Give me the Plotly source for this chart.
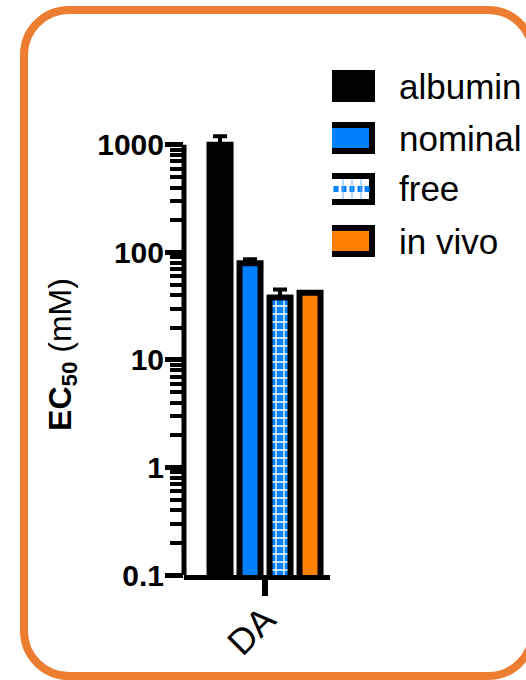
import plotly.graph_objects as go

# ---------------- data ----------------
categories = ["DA"]
series_names = ["albumin", "nominal", "free", "in vivo"]
ec50_values = [1000, 79, 38, 42]
ec50_err_plus = [200, 7, 7, 0]
series_colors = ["#000000", "#0080FF", "#0080FF", "#FF8000"]
ytick_vals = [0.1, 1, 10, 100, 1000]
ytick_text = ["0.1", "1", "10", "100", "1000"]

# ---------------- geometry (pixels) ----------------
FIG_W, FIG_H = 526, 680
L, R, T, B = 184, 196, 134, 105
PW = FIG_W - L - R
PH = FIG_H - T - B
FONT = "Liberation Sans, Arial, Helvetica, sans-serif"
ORANGE_FRAME = "#ED7D31"
Y_TOP_LOG = 3.1


def pxx(x):
    return (x - L) / PW


def pxy(y):
    return (FIG_H - B - y) / PH


fig = go.Figure()

for i, name in enumerate(series_names):
    pattern = None
    if name == "free":
        pattern = dict(shape="+", fgcolor="white", bgcolor="#0080FF",
                       size=8, solidity=0.3, fillmode="replace")
    err = ec50_err_plus[i]
    fig.add_trace(go.Bar(
        x=categories,
        y=[ec50_values[i]],
        name=name,
        marker=dict(color=series_colors[i],
                    line=dict(color="black", width=6),
                    pattern=pattern),
        error_y=dict(type="data", symmetric=False, array=[err], arrayminus=[0],
                     color="black", thickness=4, width=7, visible=err > 0),
        cliponaxis=False,
        showlegend=False,
        hoverinfo="skip",
    ))

fig.update_layout(
    width=FIG_W, height=FIG_H,
    margin=dict(l=L, r=R, t=T, b=B, autoexpand=False),
    paper_bgcolor="white", plot_bgcolor="white",
    barmode="group", bargap=0.178, bargroupgap=0.3,
    font=dict(family=FONT, color="black"),
    showlegend=False,
)

fig.update_xaxes(
    range=[-0.555, 0.445],
    showline=True, linecolor="black", linewidth=5,
    ticks="outside", ticklen=16, tickwidth=6, tickcolor="black",
    tickangle=-45, ticklabelstandoff=-12,
    tickfont=dict(size=36, family=FONT, color="black"),
    showgrid=False, zeroline=False, fixedrange=True,
)

fig.update_yaxes(
    type="log", range=[-1, Y_TOP_LOG],
    showline=False,
    tickmode="array", tickvals=ytick_vals, ticktext=ytick_text,
    ticks="outside", ticklen=18, tickwidth=5, tickcolor="black",
    ticklabelstandoff=-5,
    tickfont=dict(size=30, family=FONT, color="black", weight="bold"),
    minor=dict(ticks="outside", ticklen=13, tickwidth=4, tickcolor="black",
               dtick="D1", showgrid=False),
    showgrid=False, zeroline=False, fixedrange=True,
    title=dict(text="<b>EC<sub>50</sub></b> (mM)",
               font=dict(size=32, family=FONT, color="black"), standoff=16),
)

shapes = []
# y axis line from the lowest to the highest labelled tick
shapes.append(dict(type="line", xref="paper", yref="y", x0=0, x1=0,
                   y0=ytick_vals[0], y1=ytick_vals[-1],
                   line=dict(color="black", width=5), layer="above"))

# ---------------- rounded orange frame ----------------
x0, y0, x1, y1, r = 24, 10, 533, 676, 45
k = 0.5523 * r


def P(x, y):
    return f"{pxx(x):.5f},{pxy(y):.5f}"


path = (f"M {P(x0 + r, y0)} L {P(x1 - r, y0)} "
        f"C {P(x1 - r + k, y0)} {P(x1, y0 + r - k)} {P(x1, y0 + r)} "
        f"L {P(x1, y1 - r)} "
        f"C {P(x1, y1 - r + k)} {P(x1 - r + k, y1)} {P(x1 - r, y1)} "
        f"L {P(x0 + r, y1)} "
        f"C {P(x0 + r - k, y1)} {P(x0, y1 - r + k)} {P(x0, y1 - r)} "
        f"L {P(x0, y0 + r)} "
        f"C {P(x0, y0 + r - k)} {P(x0 + r - k, y0)} {P(x0 + r, y0)} Z")
shapes.append(dict(type="path", path=path, xref="paper", yref="paper",
                   line=dict(color=ORANGE_FRAME, width=8), fillcolor="rgba(0,0,0,0)",
                   layer="below"))

# ---------------- manual legend ----------------
legend_rows = [70, 122, 173, 225]
annotations = []
for i, name in enumerate(series_names):
    top = legend_rows[i]
    bot = top + 32
    sx0, sx1 = 332, 375
    shapes.append(dict(type="rect", xref="paper", yref="paper",
                       x0=pxx(sx0), x1=pxx(sx1), y0=pxy(bot), y1=pxy(top),
                       fillcolor="black", line=dict(width=0)))
    if name != "albumin":
        inner = "white" if name == "free" else series_colors[i]
        shapes.append(dict(type="rect", xref="paper", yref="paper",
                           x0=pxx(sx0), x1=pxx(sx1 - 6), y0=pxy(bot - 6), y1=pxy(top + 6),
                           fillcolor=inner, line=dict(width=0)))
        if name == "free":
            for cx in [336, 344, 352, 360, 367]:
                shapes.append(dict(type="rect", xref="paper", yref="paper",
                                   x0=pxx(cx - 2.5), x1=pxx(cx + 2.5),
                                   y0=pxy(top + 19), y1=pxy(top + 13),
                                   fillcolor="#0080FF", line=dict(width=0)))
            for lx in [343, 352, 361]:
                shapes.append(dict(type="line", xref="paper", yref="paper",
                                   x0=pxx(lx), x1=pxx(lx),
                                   y0=pxy(bot - 6), y1=pxy(top + 6),
                                   line=dict(color="#66B2FF", width=1)))
    annotations.append(dict(text=name, xref="paper", yref="paper",
                            x=pxx(397), y=pxy((top + bot) / 2),
                            xanchor="left", yanchor="middle", showarrow=False,
                            font=dict(size=35, family=FONT, color="black")))

fig.update_layout(shapes=shapes, annotations=annotations)

fig.write_html(
    "out.html",
    config={"displayModeBar": False, "staticPlot": False},
    post_script="document.body.style.margin='0px';document.body.style.overflow='hidden';",
)
